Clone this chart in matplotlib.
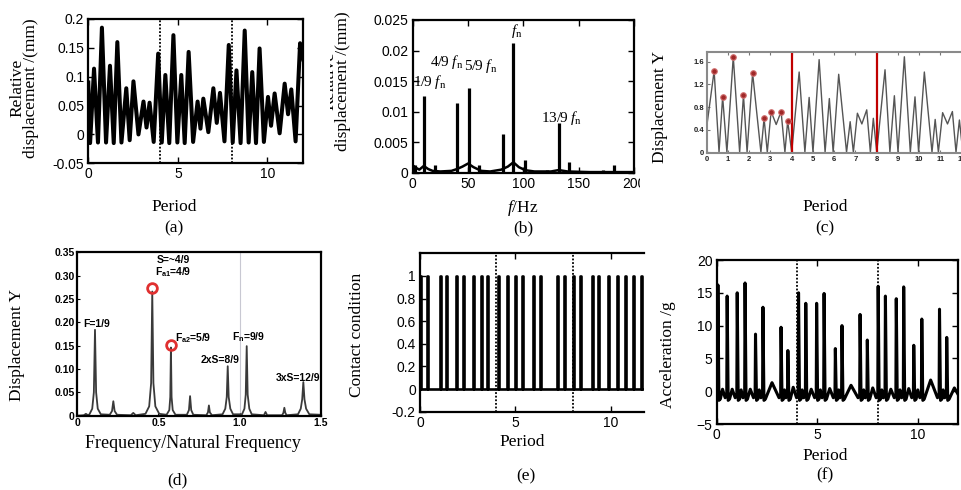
import numpy as np
import matplotlib
matplotlib.use("Agg")
import matplotlib.pyplot as plt
from matplotlib.transforms import Bbox, TransformedBbox

W, H = 962, 490
SERIF = "Liberation Serif"
SANS = "Liberation Sans"
plt.rcParams["font.family"] = SANS
plt.rcParams["mathtext.fontset"] = "custom"
plt.rcParams["mathtext.rm"] = "Liberation Serif"
plt.rcParams["mathtext.it"] = "Liberation Serif:italic"
plt.rcParams["mathtext.bf"] = "Liberation Sans:bold"

# (a) relative displacement vs period: peaks and troughs
a_peak_x = [0.32, 0.76, 1.21, 1.62, 2.12, 2.52, 3.08, 3.42, 3.9,
            4.3, 4.75, 5.19, 5.6, 6.1, 6.42, 6.98, 7.35, 7.84,
            8.27, 8.73, 9.15, 9.56, 10.03, 10.4, 10.96, 11.33, 11.82]
a_peak_y = [0.114, 0.185, 0.119, 0.16, 0.08, 0.092, 0.057, 0.055, 0.14,
            0.103, 0.172, 0.103, 0.143, 0.057, 0.062, 0.08, 0.072, 0.155,
            0.111, 0.18, 0.108, 0.149, 0.065, 0.071, 0.088, 0.078, 0.158]
a_trough_x = [0, 0.1, 0.54, 0.99, 1.42, 1.85, 2.31, 2.8, 3.25, 3.65,
              4.1, 4.52, 4.97, 5.38, 5.85, 6.26, 6.7, 7.17, 7.6,
              8.06, 8.5, 8.95, 9.36, 9.8, 10.2, 10.68, 11.15, 11.57, 12.0]
a_trough_y = [0.09, -0.015, -0.014, -0.014, -0.015, -0.014, -0.01, 0.0, 0.012, -0.013,
              -0.014, -0.015, -0.014, -0.015, -0.013, 0.01, 0.004, 0.02, -0.012,
              -0.014, -0.015, -0.014, -0.015, -0.013, 0.015, 0.002, 0.035, -0.012, 0.13]
a_yticks = [-0.05, 0, 0.05, 0.1, 0.15, 0.2]
a_yticklabels = ["-0.05", "0", "0.05", "0.1", "0.15", "0.2"]

# (b) spectrum: sharp lines plus broad background
b_line_f = [2, 10.2, 20, 40.4, 50.6, 60, 81.3, 91, 101.8, 121.7, 132, 141.5, 172, 182, 192]
b_line_a = [0.0013, 0.0126, 0.0013, 0.01135, 0.0138, 0.0012, 0.0063, 0.0212, 0.002,
            0.0005, 0.0081, 0.0018, 0.0005, 0.0013, 0.0003]
b_base_f = [0, 3, 6, 10, 14, 18, 25, 35, 40, 45, 50, 55, 62, 70, 80, 86, 91, 96,
            102, 110, 125, 131, 133, 140, 160, 200]
b_base_a = [0.0012, 0.0008, 0.0005, 0.0011, 0.0006, 0.0003, 0.0002, 0.0003, 0.0006,
            0.001, 0.0015, 0.0009, 0.0003, 0.0002, 0.0005, 0.001, 0.0017, 0.0009,
            0.0004, 0.0002, 0.0002, 0.0004, 0.0004, 0.0002, 0.0001, 0.0001]
b_notes = ["1/9 $f_{\\rm n}$", "4/9 $f_{\\rm n}$", "5/9 $f_{\\rm n}$", "$f_{\\rm n}$", "13/9 $f_{\\rm n}$"]
b_note_x = [15.5, 31, 61, 94, 134.5]
b_note_y = [0.0149, 0.0182, 0.0174, 0.0232, 0.0089]
b_yticks = [0, 0.005, 0.01, 0.015, 0.02, 0.025]
b_yticklabels = ["0", "0.005", "0.01", "0.015", "0.02", "0.025"]

# (c) displacement Y vs period
c_peak_x = [0.35, 0.75, 1.25, 1.73, 2.16, 2.7, 3.03, 3.5, 3.81,
            4.35, 4.82, 5.29, 5.77, 6.21, 6.75, 7.09, 7.53, 7.84,
            8.39, 8.83, 9.3, 9.8, 10.24, 10.75, 11.1, 11.56, 11.89]
c_peak_y = [1.44, 0.98, 1.69, 1.01, 1.40, 0.6, 0.72, 0.72, 0.55,
            1.42, 0.97, 1.64, 0.95, 1.38, 0.54, 0.69, 0.75, 0.6,
            1.46, 1.0, 1.69, 0.98, 1.42, 0.58, 0.7, 0.72, 0.57]
c_trough_x = [0, 0.58, 0.95, 1.55, 1.9, 2.55, 2.85, 3.27, 3.68,
              4.0, 4.62, 5.0, 5.57, 5.95, 6.58, 6.9, 7.3, 7.7,
              8.0, 8.62, 9.0, 9.58, 9.97, 10.6, 10.9, 11.33, 11.73, 12.05]
c_trough_y = [0.45, 0, 0, 0, 0, 0, 0, 0.49, 0,
              0, 0, 0, 0, 0, 0, 0, 0.5, 0,
              0, 0, 0, 0, 0, 0, 0, 0.5, 0, 0]
c_marked = 9  # peaks of the first period carry red markers

# (d) displacement spectrum vs frequency ratio
d_x = [0, 0.04, 0.053, 0.066,
       0.075, 0.092, 0.102, 0.109, 0.116, 0.126, 0.145,
       0.2, 0.214, 0.222, 0.23, 0.245,
       0.33, 0.345, 0.36,
       0.42, 0.443, 0.455, 0.462, 0.469, 0.481, 0.505,
       0.55, 0.567, 0.573, 0.577, 0.581, 0.588, 0.605,
       0.675, 0.688, 0.695, 0.702, 0.715,
       0.795, 0.805, 0.811, 0.817, 0.83,
       0.895, 0.912, 0.921, 0.927, 0.933, 0.943, 0.96,
       1.015, 1.03, 1.038, 1.044, 1.05, 1.06, 1.075,
       1.15, 1.16, 1.17,
       1.262, 1.27, 1.276, 1.282, 1.29,
       1.36, 1.377, 1.386, 1.393, 1.4, 1.41, 1.43, 1.5]
d_y = [0.0, 0.001, 0.004, 0.001,
       0.003, 0.015, 0.05, 0.184, 0.05, 0.015, 0.003,
       0.002, 0.01, 0.031, 0.01, 0.002,
       0.001, 0.006, 0.001,
       0.004, 0.02, 0.07, 0.266, 0.07, 0.02, 0.004,
       0.002, 0.012, 0.04, 0.146, 0.04, 0.012, 0.002,
       0.002, 0.012, 0.042, 0.012, 0.002,
       0.001, 0.007, 0.022, 0.007, 0.001,
       0.003, 0.015, 0.04, 0.106, 0.04, 0.015, 0.003,
       0.003, 0.015, 0.045, 0.149, 0.045, 0.015, 0.003,
       0.001, 0.008, 0.001,
       0.001, 0.006, 0.017, 0.006, 0.001,
       0.003, 0.015, 0.035, 0.072, 0.035, 0.015, 0.003, 0.002]
d_circle_x = [0.462, 0.577]
d_circle_y = [0.274, 0.152]
d_notes = ["F=1/9", "S=~4/9\nF$_{\\bf a1}$=4/9", "F$_{\\bf a2}$=5/9", "2xS=8/9", "F$_{\\bf n}$=9/9", "3xS=12/9"]
d_note_x = [0.119, 0.59, 0.715, 0.879, 1.054, 1.362]
d_note_y = [0.196, 0.318, 0.166, 0.119, 0.169, 0.081]
d_yticks = [0, 0.05, 0.1, 0.15, 0.2, 0.25, 0.3, 0.35]
d_yticklabels = ["0", "0.05", "0.10", "0.15", "0.20", "0.25", "0.30", "0.35"]
d_xticks = [0, 0.5, 1.0, 1.5]
d_xticklabels = ["0", "0.5", "1.0", "1.5"]

# (e) contact condition: start of each contact pulse
e_on = [0.0, 0.35, 1.05, 1.36, 1.89, 2.27, 2.76, 3.18, 3.53, 4.11, 4.55, 4.98,
        5.33, 5.91, 6.29, 7.17, 7.57, 8.04, 8.39, 9.0, 9.35, 9.88, 10.31, 10.75,
        11.15, 11.59]
e_width = 0.05
e_yticks = [-0.2, 0, 0.2, 0.4, 0.6, 0.8, 1]
e_yticklabels = ["-0.2", "0", "0.2", "0.4", "0.6", "0.8", "1"]

# (f) acceleration: impact spikes and the bumps between them
f_spike_t = [0.06, 0.52, 1.02, 1.41, 1.93, 2.3, 3.2, 3.54, 4.07, 4.43, 4.97, 5.34,
             5.9, 6.23, 7.13, 7.49, 8.03, 8.39, 8.93, 9.3, 9.8, 10.2, 11.08, 11.44]
f_spike_a = [16.2, 14.5, 15.0, 16.5, 8.7, 12.8, 9.75, 6.2, 15.0, 13.4, 13.4, 14.9,
             6.5, 10.0, 11.7, 7.8, 16.0, 14.5, 14.1, 15.9, 7.0, 11.0, 12.5, 8.2]
f_bump = [0.3, 0.3, 0.2, 0.3, 0.2, 1.3, 0.2, 0.6, 0.2, 0.3, 0.2, 0.4,
          0.2, 0.9, 0.2, 0.5, 0.2, 0.3, 0.2, 0.4, 0.2, 1.7, 0.2, 0.5]
f_yticks = [-5, 0, 5, 10, 15, 20]

period_marks = [4, 8]


def box(l, t, r, b):
    return [l / W, 1 - b / H, (r - l) / W, (b - t) / H]


def ftext(x, y, s, **kw):
    kw.setdefault("family", SERIF)
    kw.setdefault("fontsize", 12.5)
    return fig.text(x / W, 1 - y / H, s, ha="center", va="center", **kw)


def clip_px(artist, l, t, r, b):
    bb = TransformedBbox(Bbox([[l / W, 1 - b / H], [r / W, 1 - t / H]]), fig.transFigure)
    artist.set_clip_box(bb)
    artist.set_clip_on(True)


def matlab_style(ax):
    ax.tick_params(direction="in", top=True, right=True, length=4, width=1,
                   labelsize=10, pad=3)
    for s in ax.spines.values():
        s.set_linewidth(1.6)


def merged(px, py, tx, ty):
    x = np.array(px + tx)
    y = np.array(py + ty)
    o = np.argsort(x, kind="stable")
    return x[o], y[o]


fig = plt.figure(figsize=(W / 100, H / 100), dpi=100)

# ---------- (a)
ax = fig.add_axes(box(88.3, 19, 303.3, 163.3))
x, y = merged(a_peak_x, a_peak_y, a_trough_x, a_trough_y)
ax.plot(x, y, color="k", lw=2.9)
for p in period_marks:
    ax.axvline(p, color="k", ls=(0, (1, 1)), lw=1.3)
ax.set_xlim(0, 12)
ax.set_ylim(-0.05, 0.2)
ax.set_xticks([0, 5, 10])
ax.set_yticks(a_yticks, a_yticklabels)
matlab_style(ax)
ftext(24, 88, "Relative\ndisplacement /(mm)", rotation=90, linespacing=0.8)
ftext(174, 207, "Period")
ftext(174, 228, "(a)")

# ---------- (b)
ax = fig.add_axes(box(412.7, 20, 634, 172.7))
ax.plot(b_base_f, b_base_a, color="k", lw=1.8)
ax.vlines(b_line_f, 0, b_line_a, color="k", lw=2.3)
for s, nx, ny in zip(b_notes, b_note_x, b_note_y):
    ax.text(nx, ny, s, ha="center", va="center", family=SERIF, fontsize=11)
ax.set_xlim(0, 200)
ax.set_ylim(0, 0.025)
ax.set_xticks([0, 50, 100, 150, 200])
ax.set_yticks(b_yticks, b_yticklabels)
matlab_style(ax)
for lbl in ax.get_xticklabels():
    clip_px(lbl, 330, 0, 640, 245)
t = ftext(336, 81, "Relative\ndisplacement /(mm)", rotation=90, linespacing=0.8)
clip_px(t, 330, 0, 640, 245)
ftext(523, 208, "$f$/Hz")
ftext(523, 228, "(b)")

# ---------- (c)
ax = fig.add_axes(box(706.7, 51.7, 966, 153.3))
x, y = merged(c_peak_x, c_peak_y, c_trough_x, c_trough_y)
ax.plot(x, y, color="#555555", lw=1.0)
for p in period_marks:
    ax.axvline(p, color="#c00000", lw=1.6)
ax.plot(c_peak_x[:c_marked], c_peak_y[:c_marked], "o", ms=4,
        mfc="#a02828", mec="#d07070", mew=0.8)
ax.set_xlim(0, 12.2)
ax.set_ylim(-0.02, 1.78)
ax.set_xticks(range(13))
ax.set_yticks([0, 0.4, 0.8, 1.2, 1.6], ["0", "0.4", "0.8", "1.2", "1.6"])
ax.tick_params(direction="in", top=True, length=2, width=0.8, colors="#777777",
               labelcolor="#222222", labelsize=5.5, pad=2)
for lbl in ax.get_xticklabels() + ax.get_yticklabels():
    lbl.set_fontweight("bold")
for s in ax.spines.values():
    s.set_color("#8a8a8a")
    s.set_linewidth(1.5)
ax.spines["right"].set_visible(False)
ftext(660, 107, "Displacement Y", rotation=90)
ftext(825, 207, "Period")
ftext(825, 228, "(c)")

# ---------- (d)
ax = fig.add_axes(box(77.3, 252.3, 320.7, 415.7))
ax.axvline(1.0, color="#c8c8d2", lw=0.8, zorder=0)
ax.plot(d_x, d_y, color="#3a3a3a", lw=1.3)
ax.plot(d_circle_x, d_circle_y, "o", ms=7, mfc="none", mec="#e03030", mew=2)
for s, nx, ny in zip(d_notes, d_note_x, d_note_y):
    ax.text(nx, ny, s, ha="center", va="center", fontsize=7.5,
            fontweight="bold", linespacing=1.1)
ax.set_xlim(0, 1.5)
ax.set_ylim(0, 0.35)
ax.set_xticks(d_xticks, d_xticklabels)
ax.set_yticks(d_yticks, d_yticklabels)
ax.tick_params(direction="in", length=2, labelsize=7.5, pad=2)
for lbl in ax.get_xticklabels() + ax.get_yticklabels():
    lbl.set_fontweight("bold")
for s in ax.spines.values():
    s.set_linewidth(1.6)
ftext(17, 345, "Displacement Y", rotation=90)
ftext(193, 443, "Frequency/Natural Frequency", fontsize=13)
ftext(177, 480, "(d)")

# ---------- (e)
ax = fig.add_axes(box(420, 253.3, 644, 411.7))
ex, ey = [0.0], [0.0]
for t0 in e_on:
    ex += [t0, t0, t0 + e_width, t0 + e_width]
    ey += [0, 1, 1, 0]
ex.append(12)
ey.append(0)
ax.plot(ex, ey, color="k", lw=1.9)
for p in period_marks:
    ax.axvline(p, color="k", ls=(0, (1, 1)), lw=1.3)
ax.set_xlim(0, 224 / 19.07)
ax.set_ylim(-0.2, 1.2)
ax.set_xticks([0, 5, 10])
ax.set_yticks(e_yticks, e_yticklabels)
matlab_style(ax)
ax.tick_params(right=False)
ax.spines["right"].set_visible(False)
ftext(357, 335, "Contact condition", rotation=90)
ftext(522, 442, "Period")
ftext(526, 476, "(e)")

# ---------- (f)
ax = fig.add_axes(box(716.7, 260, 958, 424))
fx, fy = [0.0], [-0.8]
for i, (t0, a) in enumerate(zip(f_spike_t, f_spike_a)):
    nxt = f_spike_t[i + 1] if i + 1 < len(f_spike_t) else 12.2
    fx += [t0 - 0.02, t0, t0 + 0.05, t0 + 0.12, (t0 + nxt) / 2, nxt - 0.1]
    fy += [-0.6, a, -1.4, -1.2, f_bump[i], -1.0]
ax.plot(fx, fy, color="k", lw=2.2)
for p in period_marks:
    ax.axvline(p, color="k", ls=(0, (1, 1)), lw=1.3)
ax.set_xlim(0, 12)
ax.set_ylim(-5, 20)
ax.set_xticks([0, 5, 10])
ax.set_yticks(f_yticks)
matlab_style(ax)
ftext(668, 355, "Acceleration /g", rotation=90)
ftext(825, 456, "Period")
ftext(825, 475, "(f)")

fig.savefig("out.png", dpi=100)
